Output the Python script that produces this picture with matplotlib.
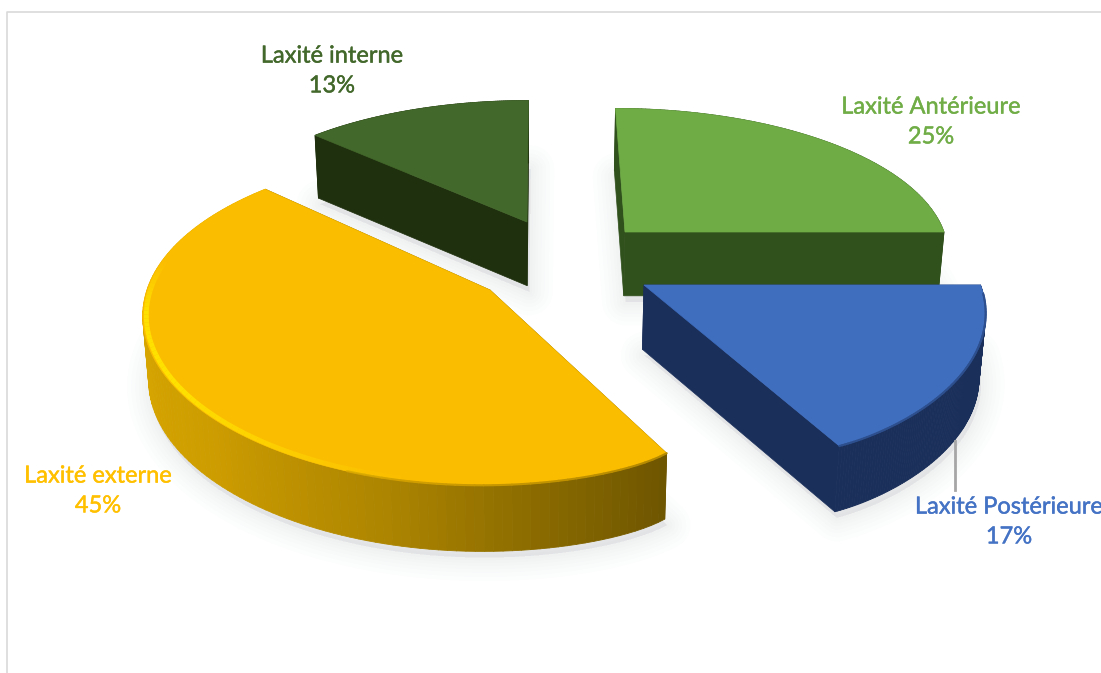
import numpy as np
import matplotlib
matplotlib.use("Agg")
import matplotlib.pyplot as plt
import matplotlib.patheffects as pe
from matplotlib.colors import to_rgb
from matplotlib.patches import Polygon
from matplotlib.collections import PolyCollection

labels = ["Laxité Antérieure", "Laxité Postérieure", "Laxité externe", "Laxité interne"]
values = [25, 17, 45, 13]

top_colors = ["#6fac46", "#3f6ebf", "#fbbd00", "#43682b"]
text_colors = ["#70ad47", "#4472c4", "#ffc000", "#43682b"]
label_pos = [(931, 122), (1009, 522), (98, 491), (332, 71)]

# tip and relative radius of each exploded slice
tips = [(625, 232), (644, 285), (490, 290), (527, 222)]
radii = [0.982, 0.99, 1.005, 0.985]
# how much the corner at the blue/yellow cut is rounded off
corner_cut = [0, 0.008, 0.02, 0]

# side shading along the arc: angle in degrees -> colour
side_stops = [
    [(0, "#30501c"), (360, "#30501c")],
    [(0, "#1a2f5a"), (360, "#1a2f5a")],
    [(150, "#6b5300"), (175, "#8f6e00"), (195, "#ae8600"), (225, "#cc9c00"), (270, "#dcaa00"), (320, "#dcaa00")],
    [(0, "#1f300e"), (360, "#1f300e")],
]
face_colors = ["#30501c", "#1a2f5a", "#6b5300", "#1f300e"]

# perspective camera
cx, cy = 540, 250
R0, tilt = 330, 0.455
persp_x, persp_y = 0.13, 0.155
depth = 64


def scale(Y, p):
    return 1 / (1 - p * Y)


def project(X, Y):
    return cx + R0 * X * scale(Y, persp_x), cy + R0 * tilt * Y * scale(Y, persp_y)


def unproject(x, y):
    Y = (y - cy) / (R0 * tilt + persp_y * (y - cy))
    return (x - cx) / (R0 * scale(Y, persp_x)), Y


def drop(x, y, Y):
    # same point on the lower face of the slice
    return cx + (x - cx) * 0.985, y + depth * scale(Y, persp_y) ** 0.15


def ramp(stops, theta):
    angles = [a for a, c in stops]
    rgb = np.array([to_rgb(c) for a, c in stops])
    return np.column_stack([np.interp(theta, angles, rgb[:, i]) for i in range(3)])


fig = plt.figure(figsize=(11.01, 6.73), dpi=100)
ax = fig.add_axes([0, 0, 1, 1])
ax.set_xlim(0, 1101)
ax.set_ylim(673, 0)
ax.axis("off")

# chart frame
ax.plot([7, 7, 1101], [673, 12, 12], color="#d9d9d9", lw=1.2)

edges = np.cumsum([0] + values) / sum(values) * 360
order = [3, 0, 1, 2]

for i in order:
    start, end = edges[i], edges[i + 1]
    theta = np.radians(np.linspace(start, end, 120))
    deg = np.degrees(theta)
    tx, ty = unproject(*tips[i])

    r = radii[i] * (1 - corner_cut[i] * np.exp(-np.abs(deg - edges[2]) / 5))

    ax_pts = tx + r * np.sin(theta)
    ay_pts = ty - r * np.cos(theta)
    ox, oy = project(ax_pts, ay_pts)
    px, py = project(tx, ty)

    top_x = np.r_[px, ox]
    top_y = np.r_[py, oy]
    top_Y = np.r_[ty, ay_pts]
    low_x, low_y = drop(top_x, top_y, top_Y)

    # soft shadow below the slice
    for lw in [34, 28, 22, 17, 12, 8, 4]:
        ax.add_patch(Polygon(np.column_stack([low_x + 2, low_y + 6]), closed=True, fc="#98a2b4",
                             ec="#98a2b4", lw=lw, alpha=0.02, joinstyle="round"))

    # cut faces
    for k in [1, -1]:
        quad = [(px, py), (top_x[k], top_y[k]), (low_x[k], low_y[k]), (low_x[0], low_y[0])]
        ax.add_patch(Polygon(quad, closed=True, fc=face_colors[i], ec=face_colors[i], lw=0.5))

    # outer wall, back to front
    quads = []
    for j in range(len(ox) - 1):
        quads.append([(ox[j], oy[j]), (ox[j + 1], oy[j + 1]), (low_x[j + 2], low_y[j + 2]), (low_x[j + 1], low_y[j + 1])])
    shade = ramp(side_stops[i], (deg[:-1] + deg[1:]) / 2)
    wall_order = np.argsort(ay_pts[:-1])
    ax.add_collection(PolyCollection(np.array(quads)[wall_order], facecolors=shade[wall_order],
                                     edgecolors=shade[wall_order], linewidths=0.6))

    ax.add_patch(Polygon(np.column_stack([top_x, top_y]), closed=True, fc=top_colors[i], ec=top_colors[i], lw=0.5))

    # soft edge where the top meets the wall
    for j in range(len(ox) - 1):
        if ay_pts[j] < 0.05 + ty or (i == 2 and deg[j] > 200):
            continue
        mix = (np.array(to_rgb(top_colors[i])) + shade[j]) / 2
        ax.plot(ox[j:j + 2], oy[j:j + 2], color=mix, lw=1.5, solid_capstyle="round")

    # bright rim on the yellow slice
    if i == 2:
        rim_x, rim_y = project(tx + 0.995 * np.sin(theta), ty - 0.995 * np.cos(theta))
        for j in range(len(ox) - 1):
            a = (deg[j] - 190) / 45
            a = min(max(a, 0), 1) * (1 - min(max((deg[j] - 262) / 18, 0), 1))
            if a > 0:
                ax.plot(rim_x[j:j + 2], rim_y[j:j + 2], color="#ffe100", lw=3.5, alpha=a,
                        solid_capstyle="butt")

# leader line of the blue slice
ax.plot([955, 955], [441, 490], color="#a6a6a6", lw=2, zorder=1.5)

for name, value, pos, col in zip(labels, values, label_pos, text_colors):
    ax.text(pos[0], pos[1], f"{name}\n{value}%", color=col, family="Lato", fontsize=17,
            ha="center", va="center", linespacing=1.52, clip_on=False,
            path_effects=[pe.withStroke(linewidth=0.3, foreground=col)])

fig.savefig("out.png", dpi=100)
